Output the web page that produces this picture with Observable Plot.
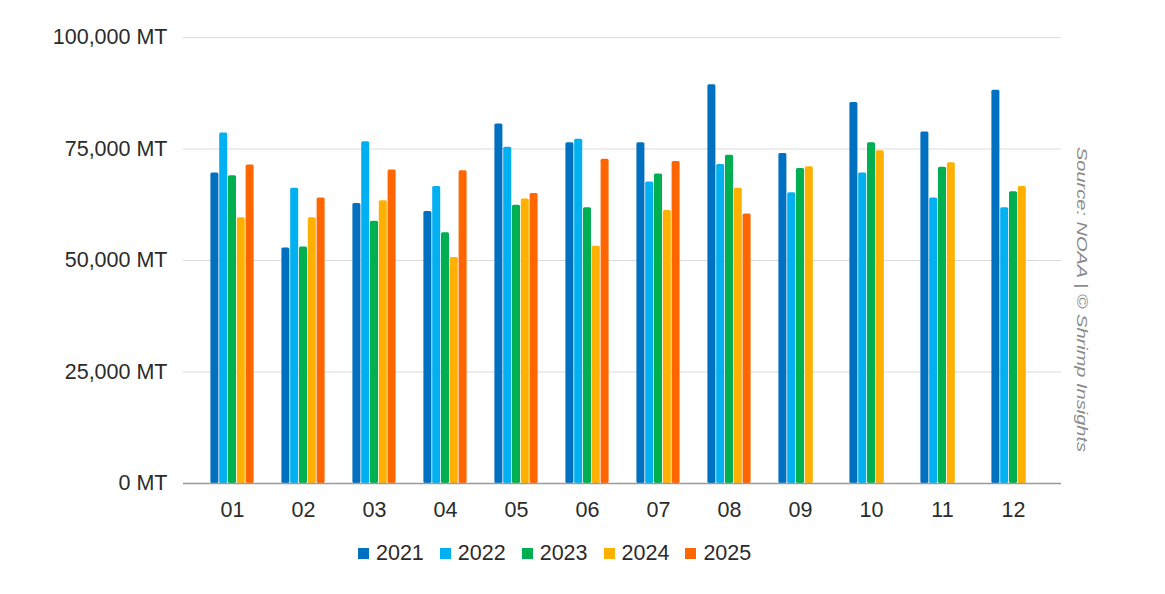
<!DOCTYPE html>
<html>
<head>
<meta charset="utf-8">
<script src="https://cdn.jsdelivr.net/npm/d3@7"></script>
<script src="https://cdn.jsdelivr.net/npm/@observablehq/plot@0.6"></script>
<style>
  html, body { margin: 0; padding: 0; background: #ffffff; }
  #wrap { position: relative; width: 1165px; height: 594px; overflow: hidden; font-family: "Liberation Sans", Arial, Helvetica, sans-serif; }
  #legend { position: absolute; left: 358px; top: 541px; display: flex; align-items: center; font-size: 21.5px; color: #2b2b2b; }
  #legend .item { display: flex; align-items: center; margin-right: 16px; }
  #legend .sw { width: 11px; height: 11px; margin-right: 7px; }
  #source { position: absolute; left: 0; top: 0; pointer-events: none; }
</style>
</head>
<body>
<div id="wrap">
  <div id="chart"></div>
  <div id="legend"></div>
  <svg id="source" width="1165" height="594">
    <text transform="translate(1077,147) rotate(90)" font-family="Liberation Sans, Arial, sans-serif" font-size="14" font-style="italic" fill="#8a8a8a" textLength="305" lengthAdjust="spacingAndGlyphs">Source: NOAA | © Shrimp Insights</text>
  </svg>
</div>
<script>
const months = ["01","02","03","04","05","06","07","08","09","10","11","12"];
const years = ["2021","2022","2023","2024","2025"];
const colors = ["#0070C0","#00B0F0","#00B050","#FFB000","#FF6600"];
const yTicks = [0, 25000, 50000, 75000, 100000];

const v2021 = [69600, 52800, 62800, 61000, 80600, 76400, 76400, 89400, 74000, 85400, 78800, 88200];
const v2022 = [78600, 66200, 76600, 66600, 75400, 77200, 67600, 71500, 65200, 69600, 64000, 61800];
const v2023 = [69000, 53000, 58800, 56200, 62400, 61800, 69400, 73600, 70600, 76400, 70900, 65400];
const v2024 = [59600, 59600, 63400, 50700, 63800, 53200, 61200, 66200, 71000, 74600, 71900, 66600];
const v2025 = [71400, 64000, 70300, 70100, 65000, 72700, 72200, 60400, null, null, null, null];

const series = [v2021, v2022, v2023, v2024, v2025];
const data = months.flatMap((m, i) => years.map((y, j) => ({month: m, year: y, value: series[j][i]})))
  .filter(d => d.value != null);

const fmt = d3.format(",");
const barPitch = 8.8;

const chart = Plot.plot({
  width: 1165,
  height: 530,
  marginTop: 37,
  marginBottom: 47,
  marginLeft: 183,
  marginRight: 104,
  style: {fontFamily: "Liberation Sans, Arial, Helvetica, sans-serif", fontSize: "21.5px", color: "#2b2b2b", background: "white", overflow: "visible"},
  x: {domain: months, paddingInner: 0.89, paddingOuter: 0.62, label: null},
  y: {domain: [0, 100000], label: null},
  color: {domain: years, range: colors},
  marks: [
    Plot.gridY(yTicks, {stroke: "#dadada", strokeOpacity: 1, strokeWidth: 1}),
    Plot.axisY(yTicks, {tickSize: 0, tickPadding: 16, tickFormat: d => fmt(d) + " MT", label: null, fontSize: 21.5, fill: "#2b2b2b"}),
    Plot.axisX({tickSize: 0, tickPadding: 18, label: null, fontSize: 21.5, fill: "#2b2b2b"}),
    ...years.map((yr, j) => Plot.barY(data.filter(d => d.year === yr), {
      x: "month", y: "value", fill: "year", dx: (j - 2) * barPitch, rx: 1.5
    })),
    Plot.ruleY([0], {stroke: "#9a9a9a", strokeWidth: 1.5})
  ]
});
document.getElementById("chart").appendChild(chart);

const legend = d3.select("#legend");
years.forEach((y, i) => {
  const item = legend.append("div").attr("class", "item");
  item.append("div").attr("class", "sw").style("background", colors[i]);
  item.append("span").text(y);
});
</script>
</body>
</html>
